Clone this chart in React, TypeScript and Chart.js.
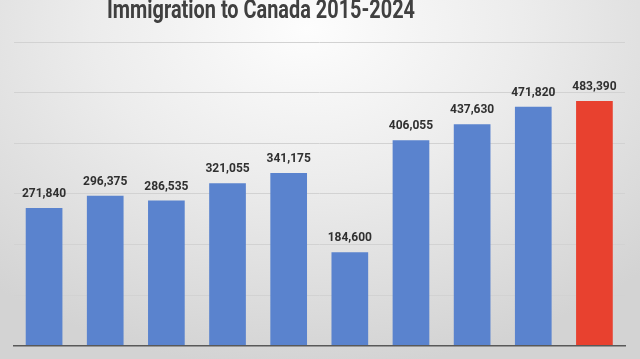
import React, { useEffect, useRef } from "react";
import { Chart, registerables } from "chart.js";

Chart.register(...registerables);

const TITLE = "Immigration to Canada 2015-2024";
const years = ["2015", "2016", "2017", "2018", "2019", "2020", "2021", "2022", "2023", "2024"];
const immigrants = [271840, 296375, 286535, 321055, 341175, 184600, 406055, 437630, 471820, 483390];
const barColors = ["#5A83CE", "#5A83CE", "#5A83CE", "#5A83CE", "#5A83CE", "#5A83CE", "#5A83CE", "#5A83CE", "#5A83CE", "#E8412F"];
const yMax = 600000;
const yStep = 100000;

const fmt = (v: number) => v.toLocaleString("en-US");

const valueLabels = {
  id: "valueLabels",
  afterDatasetsDraw(chart: any) {
    const ctx = chart.ctx;
    const meta = chart.getDatasetMeta(0);
    ctx.save();
    ctx.font = "bold 12px Roboto";
    ctx.fillStyle = "#303030";
    ctx.textAlign = "center";
    ctx.textBaseline = "alphabetic";
    meta.data.forEach((bar: any, i: number) => {
      ctx.fillText(fmt(immigrants[i]), bar.x, bar.y - 11);
    });
    ctx.restore();
  },
};

const titlePlugin = {
  id: "titleText",
  afterDraw(chart: any) {
    const ctx = chart.ctx;
    ctx.save();
    ctx.font = "bold 25px Roboto";
    ctx.fillStyle = "#404040";
    ctx.textBaseline = "alphabetic";
    const w = ctx.measureText(TITLE).width;
    const target = 308;
    const sx = target / w;
    ctx.translate(107, 18);
    ctx.scale(sx, 1);
    ctx.textAlign = "left";
    ctx.fillText(TITLE, 0, 0);
    ctx.restore();
  },
};

export default function App() {
  const ref = useRef<HTMLCanvasElement>(null);
  useEffect(() => {
    if (!ref.current) return;
    const chart = new Chart(ref.current, {
      type: "bar",
      data: {
        labels: years,
        datasets: [
          {
            data: immigrants,
            backgroundColor: barColors,
            borderColor: barColors,
            borderWidth: 0,
            categoryPercentage: 1,
            barPercentage: 0.6,
          },
        ],
      },
      options: {
        animation: false,
        responsive: false,
        maintainAspectRatio: false,
        layout: { padding: { left: 13.5, right: 15, top: 42, bottom: 8 } },
        plugins: { legend: { display: false }, title: { display: false }, tooltip: { enabled: false } },
        scales: {
          x: {
            grid: { display: false },
            border: { display: true, color: "#595959", width: 1.5 },
            ticks: { color: "#595959", font: { family: "Roboto", size: 12, weight: "bold" }, padding: 12 },
          },
          y: {
            min: 0,
            max: yMax,
            ticks: { display: false, stepSize: yStep },
            grid: { color: "#d2d2d2", lineWidth: 1, drawTicks: false },
            border: { display: false },
          },
        },
      },
      plugins: [valueLabels, titlePlugin],
    });
    return () => chart.destroy();
  }, []);
  return (
    <div
      style={{
        position: "fixed",
        left: 0,
        top: 0,
        width: 640,
        height: 359,
        overflow: "hidden",
        background: "radial-gradient(ellipse 75% 95% at 48% 8%, #fdfdfd 0%, #ececec 45%, #d3d3d3 100%)",
      }}
    >
      <canvas ref={ref} width={640} height={400} style={{ display: "block", width: 640, height: 400 }} />
    </div>
  );
}
